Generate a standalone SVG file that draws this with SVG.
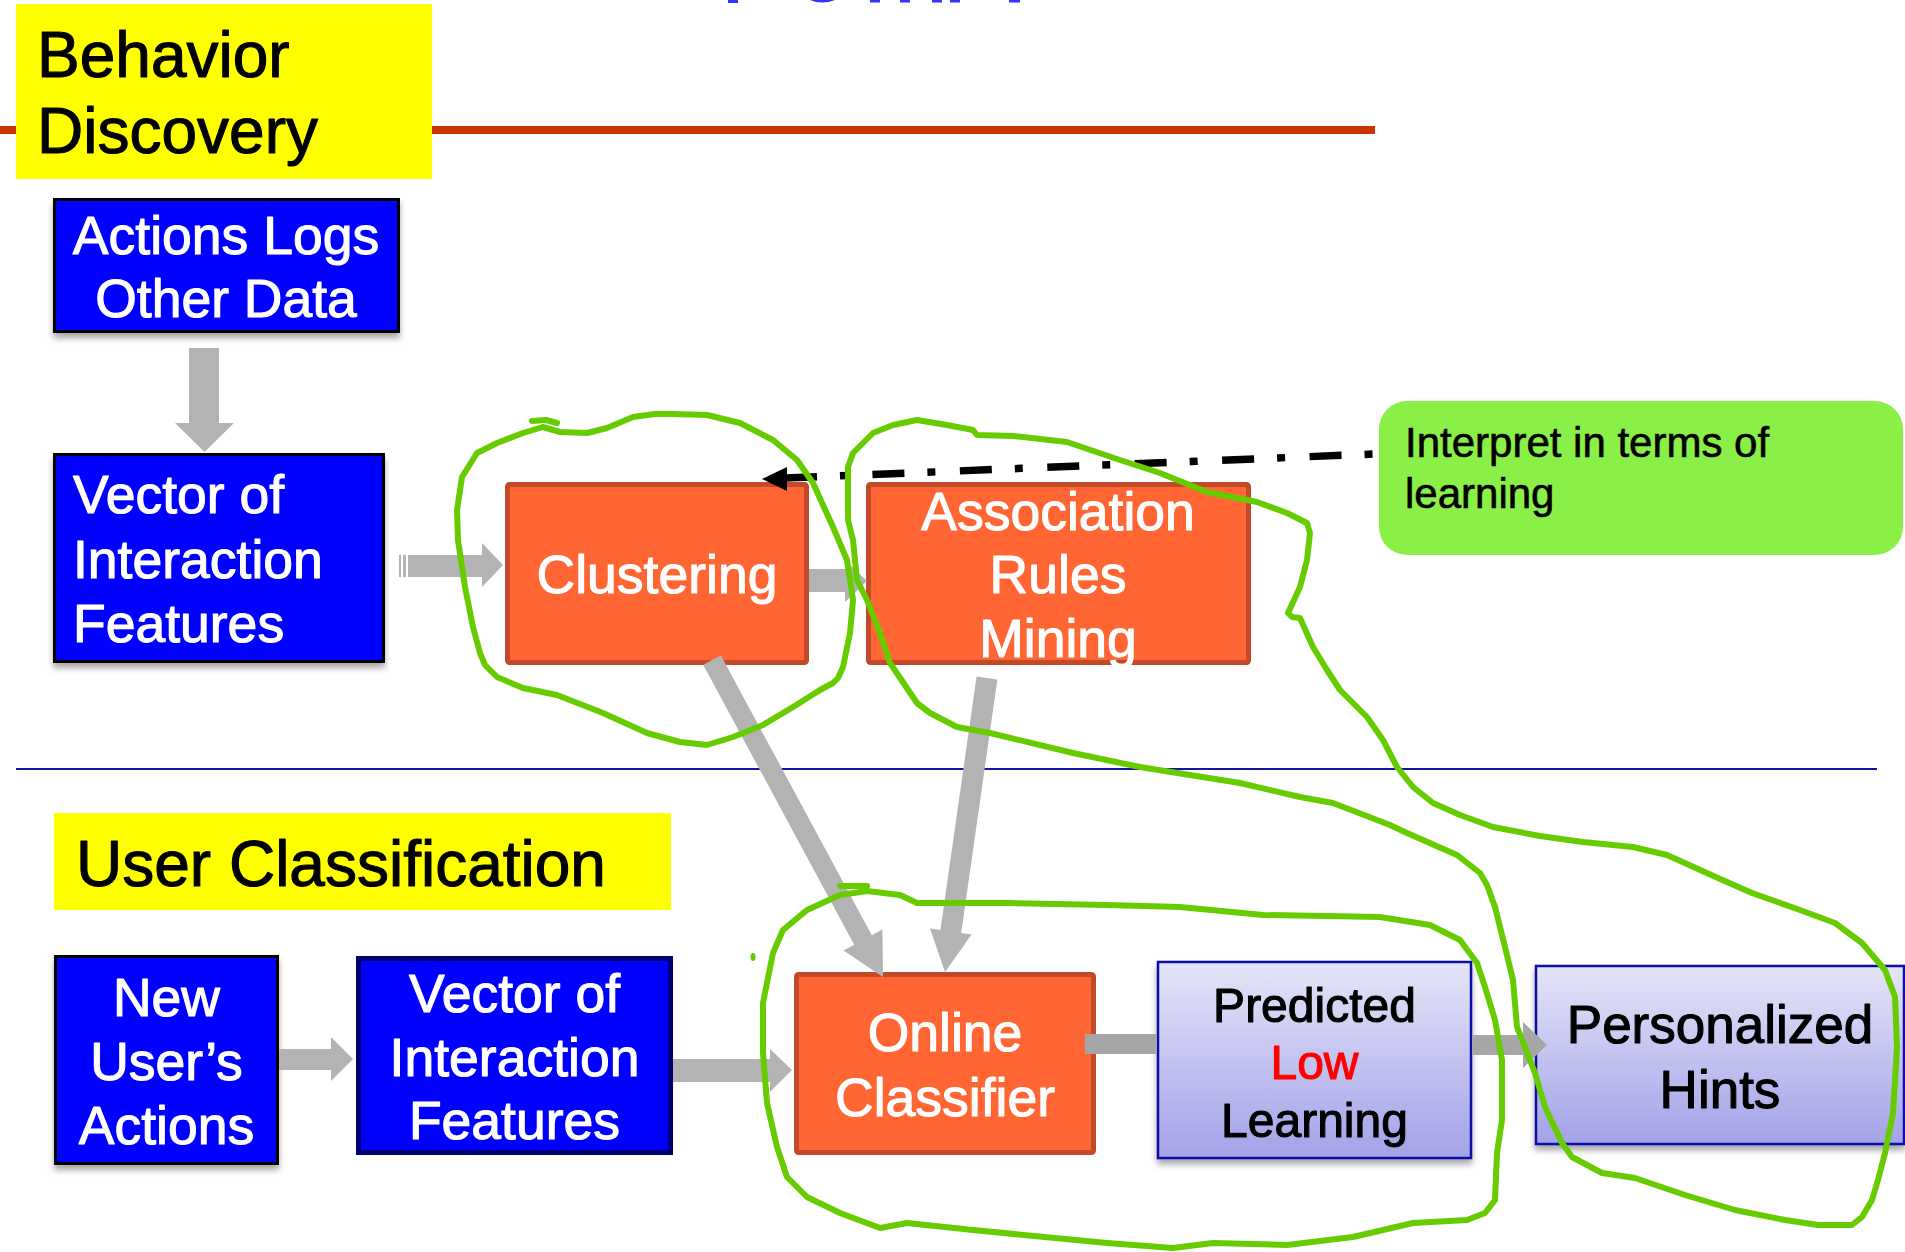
<svg xmlns="http://www.w3.org/2000/svg" width="1905" height="1252" viewBox="0 0 1905 1252">
<style>
.t{font-family:"Liberation Sans",Arial,Helvetica,sans-serif;stroke-width:1.1px;stroke-linejoin:round}
.w{fill:#ffffff;stroke:#ffffff;font-size:53.5px;text-anchor:middle}
.wl{fill:#ffffff;stroke:#ffffff;font-size:53.5px}
.k{fill:#000000;stroke:#000000}
.blue{fill:#0000ff;stroke:#000000;stroke-width:3}
.org{fill:#ff6633;stroke:#c24a28;stroke-width:5}
.lav{fill:url(#lav);stroke:#1111aa;stroke-width:2.5}
.arr{fill:#b3b3b3}
.arr2{fill:#a6a6a6}
.loop{fill:none;stroke:#66cc00;stroke-width:6;stroke-linejoin:round;stroke-linecap:round}
</style>
<defs>
<linearGradient id="lav" x1="0" y1="0" x2="0" y2="1">
<stop offset="0" stop-color="#e5e5f8"/>
<stop offset="1" stop-color="#a2a2e8"/>
</linearGradient>
<filter id="sh" x="-10%" y="-10%" width="120%" height="130%">
<feDropShadow dx="0" dy="5" stdDeviation="3" flood-color="#000" flood-opacity="0.35"/>
</filter>
</defs>
<rect width="1905" height="1252" fill="#ffffff"/>

<g id="title-fragments" fill="#3333ff">
<rect x="728" y="0" width="10" height="3"/>
<path d="M810,0 Q822,5 835,0 Z"/>
<rect x="870" y="0" width="10" height="2.5"/>
<rect x="900" y="0" width="10" height="2.5"/>
<rect x="932" y="0" width="10" height="2.5"/>
<rect x="950" y="0" width="10" height="2.5"/>
<rect x="1009" y="0" width="11" height="2.5"/>
</g>

<g id="separators">
<line x1="0" y1="130" x2="1375" y2="130" stroke="#cc3300" stroke-width="8"/>
<line x1="16" y1="769" x2="1877" y2="769" stroke="#1414a0" stroke-width="2.2"/>
</g>

<g id="behavior-discovery">
<rect x="16" y="4" width="416" height="175" fill="#ffff00"/>
<text class="t k" x="37" y="77" font-size="64">Behavior</text>
<text class="t k" x="37" y="153" font-size="64">Discovery</text>
</g>

<g id="user-classification">
<rect x="54" y="813" width="617" height="97" fill="#ffff00"/>
<text class="t k" x="76" y="886" font-size="64">User Classification</text>
</g>

<g id="actions-logs" filter="url(#sh)">
<rect class="blue" x="54.5" y="199.5" width="344" height="132"/>
<text class="t w" x="226" y="254">Actions Logs</text>
<text class="t w" x="226" y="317">Other Data</text>
</g>

<g id="vector-top" filter="url(#sh)">
<rect class="blue" x="54.5" y="454.5" width="329" height="207"/>
<text class="t wl" x="73" y="513">Vector of</text>
<text class="t wl" x="73" y="578">Interaction</text>
<text class="t wl" x="73" y="642">Features</text>
</g>

<g id="clustering">
<rect class="org" x="507.5" y="484.5" width="299" height="178" rx="2"/>
<text class="t w" x="657" y="593">Clustering</text>
</g>

<g id="association">
<rect class="org" x="868.5" y="484.5" width="380" height="178" rx="2"/>
<text class="t w" x="1058" y="530">Association</text>
<text class="t w" x="1058" y="593">Rules</text>
<text class="t w" x="1058" y="657">Mining</text>
</g>

<g id="interpret-note">
<rect x="1379" y="401" width="524" height="154" rx="28" fill="#8aef46"/>
<text class="t k" x="1405" y="457" font-size="42" style="stroke-width:0.6px">Interpret in terms of</text>
<text class="t k" x="1405" y="508" font-size="42" style="stroke-width:0.6px">learning</text>
</g>

<g id="new-users-actions" filter="url(#sh)">
<rect class="blue" x="55.5" y="956.5" width="222" height="207"/>
<text class="t w" x="166.5" y="1016">New</text>
<text class="t w" x="166.5" y="1080">User’s</text>
<text class="t w" x="166.5" y="1144">Actions</text>
</g>

<g id="vector-bottom">
<rect x="358.5" y="958.5" width="312" height="194" fill="#0000ff" stroke="#000070" stroke-width="5"/>
<text class="t w" x="514.5" y="1012">Vector of</text>
<text class="t w" x="514.5" y="1076">Interaction</text>
<text class="t w" x="514.5" y="1139">Features</text>
</g>

<g id="online-classifier">
<rect class="org" x="796.5" y="974.5" width="297" height="178" rx="2"/>
<text class="t w" x="945" y="1051">Online</text>
<text class="t w" x="945" y="1116">Classifier</text>
</g>

<g id="predicted-low-learning" filter="url(#sh)">
<rect class="lav" x="1158" y="962" width="313" height="196"/>
<text class="t k" x="1314.5" y="1022" font-size="48" text-anchor="middle">Predicted</text>
<text class="t" x="1314.5" y="1079" font-size="48" text-anchor="middle" fill="#ff0000" stroke="#ff0000">Low</text>
<text class="t k" x="1314.5" y="1137" font-size="48" text-anchor="middle">Learning</text>
</g>

<g id="personalized-hints" filter="url(#sh)">
<rect class="lav" x="1536" y="966" width="368" height="178"/>
<text class="t k" x="1720" y="1043" font-size="53" text-anchor="middle">Personalized</text>
<text class="t k" x="1720" y="1108" font-size="53" text-anchor="middle">Hints</text>
</g>

<g id="connectors">
<polygon class="arr" points="189,348 219,348 219,423 234,423 204.5,452 175,423 189,423"/>
<rect class="arr" x="399" y="555" width="2" height="22"/>
<rect class="arr" x="403" y="555" width="3" height="22"/>
<polygon class="arr" points="408,555 482,555 482,543 503,565 482,587 482,577 408,577"/>
<polygon class="arr" points="809,569 845,569 845,560 867,581 845,602 845,592 809,592"/>
<polygon class="arr" points="720.8,655.3 871.8,935.3 882.4,929.5 883,977 843.6,950.5 854.2,944.8 703.2,664.8"/>
<polygon class="arr" points="997.4,679.5 961.2,932.9 971.6,934.4 945,972 930,928.4 940.4,929.9 976.6,676.5"/>
<polygon class="arr" points="279,1049 331,1049 331,1037 353,1059 331,1081 331,1070 279,1070"/>
<polygon class="arr" points="673,1059 770,1059 770,1049 792,1070 770,1092 770,1082 673,1082"/>
<rect class="arr2" x="1085" y="1034" width="72" height="20"/>
<polygon class="arr2" points="1472,1035 1523,1035 1523,1022 1547,1045 1523,1068 1523,1055 1472,1055"/>
<path d="M785,478 L1374,454" fill="none" stroke="#000" stroke-width="7.5" stroke-dasharray="32 23 8 24.5"/>
<polygon points="762,479 787,467 787,491" fill="#000"/>
</g>

<g id="annotations">
<path class="loop" d="M532,421 L546,420 L557,423"/>
<path class="loop" d="M543,427 L560,432 L587,433 L607,428 L633,417 L655,414 L673,414 L707,415 L740,423 L773,440 L797,460 L813,483 L823,505 L833,527 L847,560 L853,600 L850,633 L843,667 L838,678 L833,683 L820,690 L793,707 L763,725 L733,737 L707,745 L680,742 L647,733 L603,713 L557,695 L523,688 L497,677 L485,665 L480,653 L473,627 L465,587 L458,540 L457,510 L462,477 L477,453 L497,443 L523,433 L543,427"/>
<path class="loop" d="M853,453 L873,433 L893,425 L917,420 L947,425 L973,430 L977,435 L1013,436 L1067,442 L1120,460 L1160,473 L1207,492 L1257,502 L1287,513 L1307,523 L1310,533 L1307,560 L1300,587 L1288,613 L1292,617 L1300,618 L1313,647 L1327,670 L1340,690 L1367,717 L1383,740 L1397,767 L1413,787 L1433,803 L1460,815 L1493,827 L1540,836 L1583,842 L1633,847 L1667,855 L1718,878 L1752,893 L1800,910 L1835,923 L1862,943 L1885,970 L1895,997 L1897,1047 L1893,1113 L1885,1153 L1878,1180 L1872,1200 L1862,1217 L1852,1225 L1818,1225 L1785,1220 L1735,1210 L1685,1195 L1635,1178 L1602,1173 L1572,1157 L1562,1143 L1545,1107 L1535,1073 L1525,1047 L1517,1027 L1513,980 L1505,947 L1495,907 L1487,885 L1480,873 L1457,855 L1407,833 L1390,825 L1333,803 L1300,797 L1240,783 L1140,767 L1073,753 L990,733 L957,727 L930,713 L917,703 L890,663 L880,633 L867,600 L857,580 L853,540 L848,520 L848,467 L853,453"/>
<path class="loop" d="M840,886 L867,886"/>
<path class="loop" d="M867,891 L900,895 L917,903 L1007,903 L1107,905 L1180,907 L1263,915 L1380,917 L1430,925 L1460,940 L1477,963 L1485,987 L1495,1020 L1502,1060 L1502,1120 L1497,1153 L1495,1200 L1485,1213 L1467,1220 L1413,1223 L1353,1237 L1287,1245 L1213,1243 L1173,1248 L1107,1243 L973,1230 L907,1223 L880,1228 L840,1213 L807,1197 L787,1177 L777,1147 L767,1103 L763,1053 L763,1003 L773,953 L783,930 L807,910 L840,895 L867,891"/>
<ellipse cx="753" cy="957" rx="2.5" ry="4" fill="#66cc00"/>
</g>
</svg>
